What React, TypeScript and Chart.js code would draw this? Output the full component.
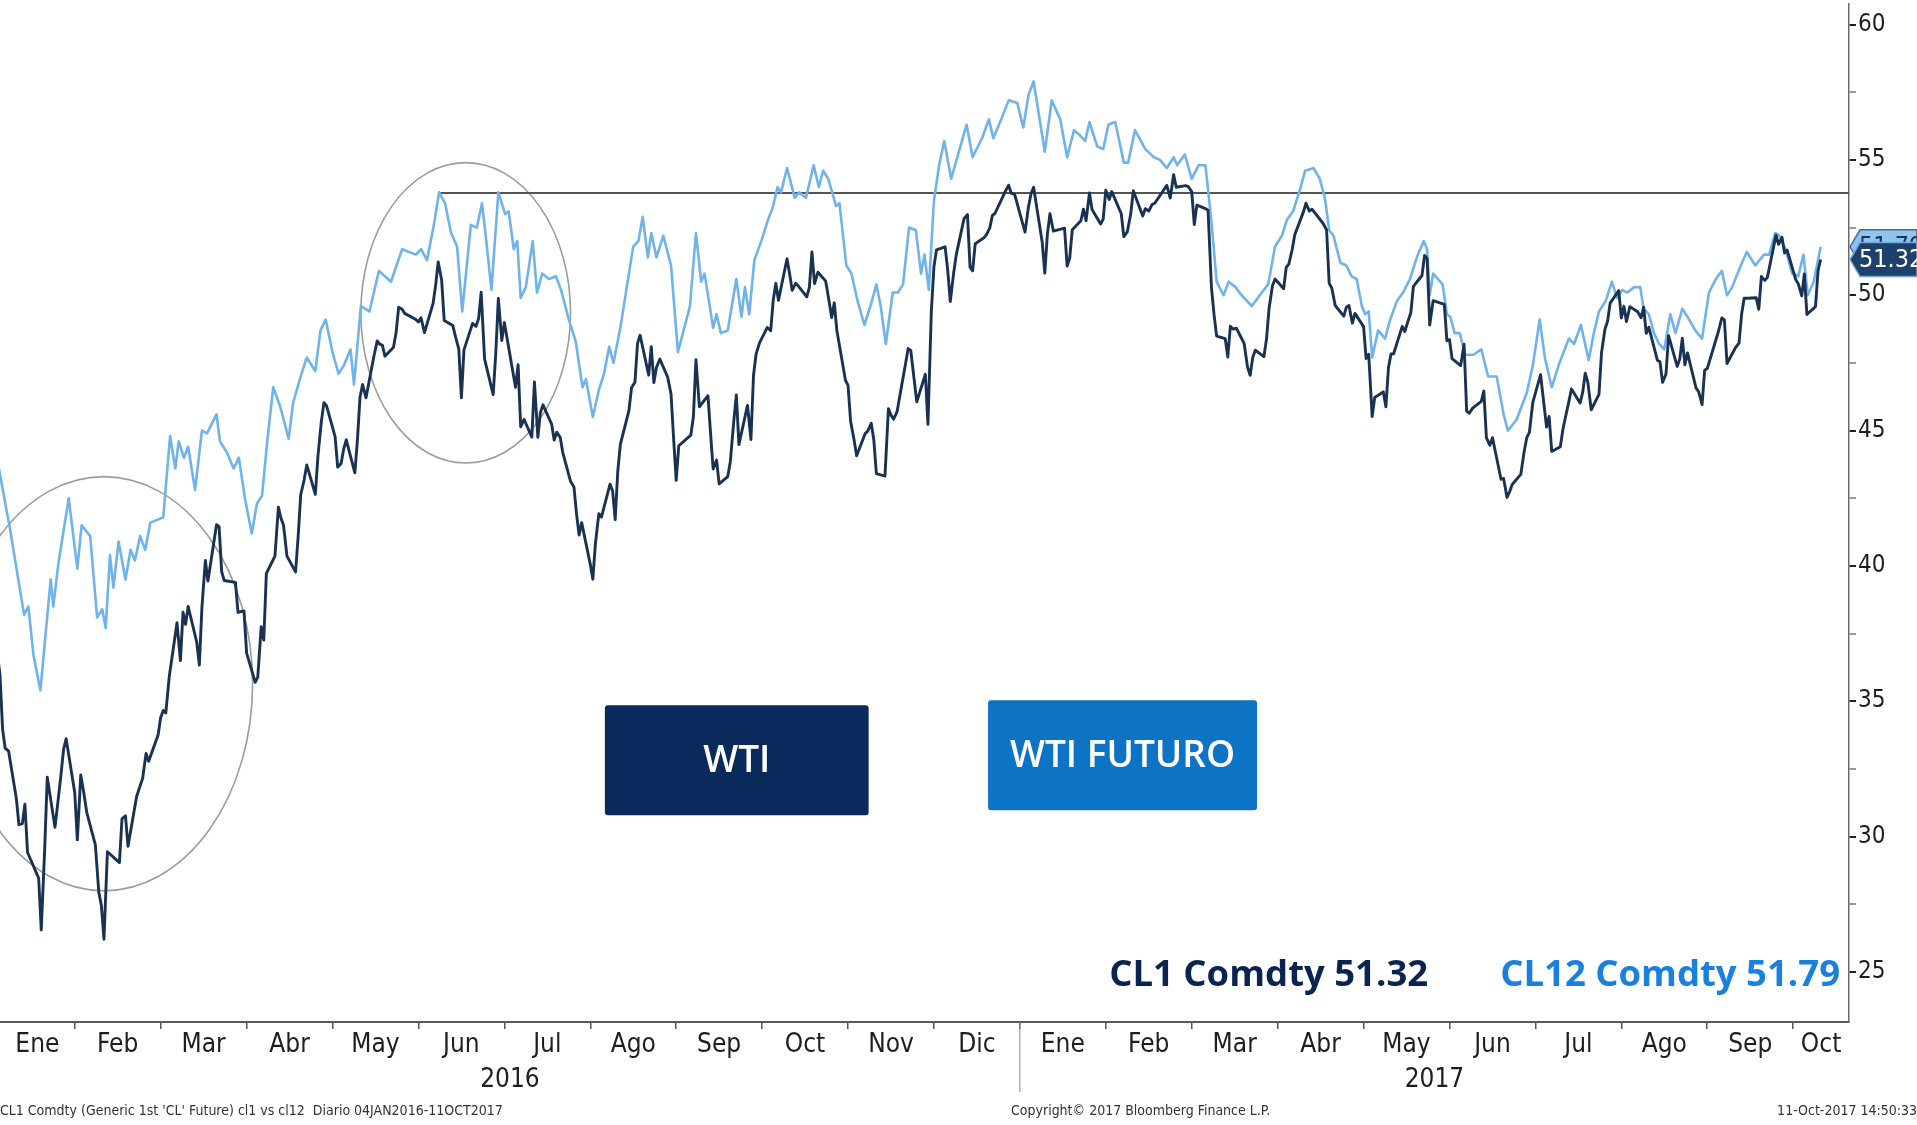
import React, { useEffect, useRef } from 'react';
import { Chart, registerables } from 'chart.js';

Chart.register(...registerables);

// x values are months since 1 Jan 2016 (fractional), y values are USD/bbl
const WTI_X = [
  0.10, 0.13, 0.16, 0.19, 0.23, 0.32, 0.35, 0.39, 0.42, 0.45, 0.58, 0.61, 0.65, 0.68, 0.77, 0.81, 0.84, 0.87, 0.90,
  1.00, 1.03, 1.07, 1.10, 1.14, 1.24, 1.28, 1.31, 1.34, 1.38, 1.52, 1.55, 1.59, 1.62, 1.72, 1.76, 1.79, 1.83, 1.86, 1.97,
  2.00, 2.03, 2.06, 2.10, 2.19, 2.23, 2.26, 2.29, 2.32, 2.42, 2.45, 2.48, 2.52, 2.55, 2.65, 2.68, 2.71, 2.74, 2.87, 2.90, 2.94, 2.97,
  3.00, 3.10, 3.13, 3.17, 3.20, 3.23, 3.33, 3.37, 3.40, 3.43, 3.47, 3.57, 3.60, 3.63, 3.67, 3.70, 3.80, 3.83, 3.87, 3.90, 3.93,
  4.03, 4.06, 4.10, 4.13, 4.16, 4.26, 4.29, 4.32, 4.35, 4.39, 4.48, 4.52, 4.55, 4.58, 4.61, 4.71, 4.74, 4.77, 4.81, 4.84, 4.97,
  5.00, 5.03, 5.07, 5.17, 5.20, 5.23, 5.27, 5.30, 5.40, 5.43, 5.47, 5.50, 5.53, 5.63, 5.67, 5.70, 5.73, 5.77, 5.87, 5.90, 5.93, 5.97,
  6.00, 6.13, 6.16, 6.19, 6.23, 6.32, 6.35, 6.39, 6.42, 6.45, 6.55, 6.58, 6.61, 6.65, 6.68, 6.77, 6.81, 6.84, 6.87, 6.90,
  7.00, 7.03, 7.06, 7.10, 7.13, 7.23, 7.26, 7.29, 7.32, 7.35, 7.45, 7.48, 7.52, 7.55, 7.58, 7.68, 7.71, 7.74, 7.77, 7.81, 7.90, 7.94, 7.97,
  8.00, 8.03, 8.17, 8.20, 8.23, 8.27, 8.37, 8.40, 8.43, 8.47, 8.50, 8.60, 8.63, 8.67, 8.70, 8.73, 8.83, 8.87, 8.90, 8.93, 8.97,
  9.06, 9.10, 9.13, 9.16, 9.19, 9.29, 9.32, 9.35, 9.39, 9.42, 9.52, 9.55, 9.58, 9.61, 9.65, 9.74, 9.77, 9.81, 9.84, 9.87, 9.97,
  10.00, 10.03, 10.07, 10.10, 10.20, 10.23, 10.27, 10.30, 10.33, 10.43, 10.47, 10.50, 10.53, 10.57, 10.67, 10.70, 10.73, 10.80, 10.90, 10.93, 10.97,
  11.00, 11.03, 11.13, 11.16, 11.19, 11.23, 11.26, 11.35, 11.39, 11.42, 11.45, 11.48, 11.58, 11.61, 11.65, 11.68, 11.71, 11.84, 11.87, 11.90, 11.94,
  12.06, 12.10, 12.13, 12.16, 12.26, 12.29, 12.32, 12.35, 12.39, 12.52, 12.55, 12.58, 12.61, 12.71, 12.74, 12.77, 12.81, 12.84, 12.94, 12.97,
  13.00, 13.04, 13.07, 13.18, 13.21, 13.25, 13.29, 13.32, 13.43, 13.46, 13.50, 13.54, 13.57, 13.71, 13.75, 13.79, 13.82, 13.93, 13.96,
  14.00, 14.03, 14.06, 14.16, 14.19, 14.23, 14.26, 14.29, 14.39, 14.42, 14.45, 14.48, 14.52, 14.61, 14.65, 14.68, 14.71, 14.74, 14.84, 14.87, 14.90, 14.94, 14.97,
  15.07, 15.10, 15.13, 15.17, 15.20, 15.30, 15.33, 15.37, 15.40, 15.53, 15.57, 15.60, 15.63, 15.67, 15.77, 15.80, 15.83, 15.87, 15.90,
  16.00, 16.03, 16.06, 16.10, 16.13, 16.23, 16.26, 16.29, 16.32, 16.35, 16.45, 16.48, 16.52, 16.55, 16.58, 16.68, 16.71, 16.74, 16.77, 16.81, 16.94, 16.97,
  17.00, 17.03, 17.13, 17.17, 17.20, 17.23, 17.27, 17.37, 17.40, 17.43, 17.47, 17.50, 17.60, 17.63, 17.67, 17.70, 17.73, 17.83, 17.87, 17.90, 17.93, 17.97,
  18.06, 18.13, 18.16, 18.19, 18.29, 18.32, 18.35, 18.39, 18.42, 18.52, 18.55, 18.58, 18.61, 18.65, 18.74, 18.77, 18.81, 18.84, 18.87, 18.97,
  19.00, 19.03, 19.06, 19.10, 19.19, 19.23, 19.26, 19.29, 19.32, 19.42, 19.45, 19.48, 19.52, 19.55, 19.65, 19.68, 19.71, 19.74, 19.77, 19.87, 19.90, 19.94, 19.97,
  20.00, 20.13, 20.17, 20.20, 20.23, 20.33, 20.37, 20.40, 20.43, 20.47, 20.57, 20.60, 20.63, 20.67, 20.70, 20.80, 20.83, 20.87, 20.90, 20.93,
  21.03, 21.06, 21.10, 21.13, 21.16, 21.26, 21.29, 21.32,
];
const WTI_Y = [
  36.76, 35.97, 33.97, 33.27, 33.16, 31.41, 30.44, 30.48, 31.20, 29.42, 28.46, 26.55, 29.53, 32.19, 30.34, 31.45, 32.30, 33.22, 33.62,
  31.62, 29.88, 32.28, 31.72, 30.89, 29.69, 27.94, 27.45, 26.21, 29.44, 29.04, 30.66, 30.77, 29.64, 31.48, 31.87, 32.15, 33.07, 32.78, 33.75,
  34.40, 34.66, 34.57, 35.92, 37.90, 36.50, 38.29, 37.84, 38.50, 37.18, 36.34, 38.46, 40.20, 39.44, 41.52, 41.45, 39.79, 39.46, 39.39, 38.28, 38.32, 38.34,
  36.79, 35.70, 35.89, 37.75, 37.26, 39.72, 40.36, 42.17, 41.76, 41.50, 40.36, 39.78, 41.08, 42.63, 43.18, 43.73, 42.64, 44.04, 45.33, 46.03, 45.92,
  44.78, 43.65, 43.78, 44.32, 44.66, 43.44, 44.66, 46.23, 46.70, 46.21, 47.72, 48.31, 48.19, 48.16, 47.75, 48.08, 48.62, 49.56, 49.48, 49.33, 49.10,
  49.01, 49.17, 48.62, 49.69, 50.36, 51.23, 50.56, 49.07, 48.88, 48.49, 48.01, 46.21, 47.98, 48.96, 48.85, 49.13, 50.11, 47.64, 46.33, 47.85, 49.88, 48.33,
  48.99, 46.60, 47.43, 45.14, 45.41, 44.76, 46.80, 44.75, 45.68, 45.95, 45.24, 44.65, 44.94, 44.75, 44.19, 43.13, 42.92, 41.92, 41.14, 41.60,
  40.06, 39.51, 40.83, 41.93, 41.80, 43.02, 42.77, 41.71, 43.49, 44.49, 45.74, 46.58, 46.79, 48.22, 48.52, 47.05, 48.10, 46.77, 47.33, 47.64, 46.98, 46.35, 44.70,
  43.16, 44.44, 44.83, 45.50, 47.62, 45.88, 46.29, 44.90, 43.58, 43.91, 43.03, 43.30, 43.85, 45.34, 46.32, 44.48, 45.93, 44.67, 47.05, 47.83, 48.24,
  48.81, 48.69, 49.83, 50.44, 49.81, 51.35, 50.79, 50.18, 50.44, 50.35, 49.94, 50.29, 51.60, 50.43, 50.85, 50.52, 49.96, 49.18, 49.72, 48.70, 46.86,
  46.67, 45.34, 44.66, 44.07, 44.89, 44.98, 45.27, 44.66, 43.41, 43.32, 45.81, 45.57, 45.42, 45.69, 47.49, 48.03, 47.96, 46.06, 47.08, 45.23, 49.44,
  51.06, 51.68, 51.79, 50.93, 49.77, 50.84, 51.50, 52.83, 52.98, 51.04, 50.90, 51.90, 52.12, 52.23, 52.49, 52.95, 53.02, 53.90, 54.06, 53.77, 53.72,
  52.33, 53.26, 53.76, 53.99, 51.96, 50.82, 52.25, 53.01, 52.37, 52.48, 51.08, 51.37, 52.42, 52.75, 53.18, 52.75, 53.78, 53.17, 52.63, 52.81,
  53.88, 53.54, 53.83, 53.01, 52.17, 52.34, 53.00, 53.86, 52.93, 53.20, 53.11, 53.36, 53.40, 54.06, 53.59, 54.45, 53.99, 54.05, 54.01,
  53.83, 52.61, 53.33, 53.20, 53.14, 50.28, 49.28, 48.49, 48.40, 47.72, 48.86, 48.75, 48.78, 48.22, 47.34, 47.04, 47.70, 47.97, 47.73, 48.37, 49.51, 50.35, 50.60,
  50.24, 51.03, 51.15, 51.70, 52.24, 53.08, 53.40, 53.11, 53.18, 52.65, 52.41, 50.44, 50.27, 49.62, 49.23, 49.56, 49.62, 48.97, 49.33,
  48.84, 47.66, 47.82, 45.52, 46.22, 46.43, 45.88, 47.33, 47.83, 47.84, 48.85, 48.66, 49.07, 49.35, 50.33, 50.73, 51.47, 51.36, 48.90, 49.80, 49.66, 48.32,
  48.36, 47.66, 47.40, 48.19, 45.72, 45.64, 45.83, 46.08, 46.46, 44.73, 44.46, 44.74, 43.20, 43.23, 42.53, 42.74, 43.01, 43.38, 44.24, 44.74, 44.93, 46.04,
  47.07, 45.13, 45.52, 44.23, 44.40, 45.04, 45.49, 46.08, 46.54, 46.02, 46.40, 47.12, 46.79, 45.77, 46.34, 47.89, 48.75, 49.04, 49.71, 50.17,
  49.16, 49.59, 49.03, 49.58, 49.39, 49.17, 49.56, 48.59, 48.82, 47.59, 47.55, 46.78, 47.09, 48.51, 47.37, 47.64, 48.41, 47.43, 47.87, 46.57, 46.44, 45.96, 47.23,
  47.29, 48.66, 49.16, 49.09, 47.48, 48.07, 48.23, 49.30, 49.89, 49.89, 49.91, 49.48, 50.69, 50.55, 50.66, 52.22, 51.88, 52.14, 51.56, 51.67,
  50.58, 50.42, 49.98, 50.79, 49.29, 49.58, 50.92, 51.32,
];

const FUT_X = [
  0.10, 0.25, 0.41, 0.46, 0.52, 0.60, 0.72, 0.75, 0.81, 0.93, 1.03, 1.08, 1.18, 1.26, 1.32, 1.36, 1.41, 1.45, 1.51, 1.59,
  1.65, 1.70, 1.76, 1.82, 1.88, 1.96, 2.03, 2.11, 2.17, 2.21, 2.27, 2.32, 2.40, 2.48, 2.54, 2.65, 2.69, 2.77, 2.85, 2.91,
  2.98, 3.06, 3.12, 3.18, 3.24, 3.31, 3.39, 3.49, 3.54, 3.62, 3.70, 3.80, 3.86, 3.92, 4.00, 4.07, 4.13, 4.21, 4.25, 4.33,
  4.43, 4.54, 4.68, 4.81, 4.97, 5.03, 5.10, 5.18, 5.24, 5.31, 5.38, 5.45, 5.51, 5.61, 5.68, 5.74, 5.79, 5.85, 5.93, 6.01,
  6.05, 6.11, 6.15, 6.19, 6.25, 6.33, 6.38, 6.44, 6.52, 6.60, 6.66, 6.75, 6.83, 6.91, 6.95, 7.03, 7.10, 7.16, 7.22, 7.27,
  7.35, 7.43, 7.50, 7.56, 7.61, 7.67, 7.71, 7.77, 7.85, 7.94, 8.02, 8.16, 8.23, 8.29, 8.33, 8.43, 8.47, 8.52, 8.60, 8.70,
  8.76, 8.80, 8.85, 8.91, 8.99, 9.07, 9.12, 9.18, 9.22, 9.29, 9.38, 9.43, 9.51, 9.60, 9.66, 9.71, 9.77, 9.86, 9.90, 9.98,
  10.04, 10.11, 10.19, 10.27, 10.33, 10.38, 10.44, 10.52, 10.58, 10.64, 10.71, 10.79, 10.85, 10.89, 10.94, 11.00, 11.06, 11.12, 11.20, 11.38,
  11.45, 11.56, 11.64, 11.69, 11.77, 11.87, 11.97, 12.04, 12.10, 12.16, 12.29, 12.37, 12.47, 12.55, 12.63, 12.70, 12.76, 12.81, 12.90, 12.97,
  13.03, 13.11, 13.21, 13.26, 13.34, 13.46, 13.56, 13.63, 13.71, 13.79, 13.83, 13.92, 14.00, 14.08, 14.16, 14.23, 14.29, 14.37, 14.43, 14.51,
  14.58, 14.70, 14.84, 14.89, 14.97, 15.05, 15.11, 15.18, 15.26, 15.32, 15.42, 15.49, 15.55, 15.60, 15.65, 15.73, 15.80, 15.86, 15.92, 15.98,
  16.02, 16.06, 16.10, 16.17, 16.25, 16.31, 16.39, 16.46, 16.54, 16.62, 16.70, 16.74, 16.77, 16.81, 16.92, 16.97, 17.01, 17.06, 17.12, 17.18,
  17.28, 17.37, 17.45, 17.55, 17.63, 17.68, 17.78, 17.90, 17.97, 18.05, 18.11, 18.19, 18.28, 18.39, 18.45, 18.53, 18.62, 18.68, 18.74, 18.82,
  18.89, 18.95, 19.01, 19.07, 19.15, 19.22, 19.26, 19.32, 19.38, 19.44, 19.50, 19.57, 19.63, 19.71, 19.79, 19.86, 19.94, 20.02, 20.10, 20.17,
  20.23, 20.29, 20.39, 20.46, 20.56, 20.66, 20.72, 20.79, 20.84, 20.91, 20.99, 21.06, 21.12, 21.17, 21.24, 21.32,
];
const FUT_Y = [
  43.9, 41.3, 38.2, 38.5, 36.7, 35.4, 39.5, 38.5, 40.1, 42.5, 39.9, 41.5, 41.1, 38.1, 38.4, 37.7, 40.4, 39.2, 40.9, 39.5,
  40.6, 40.2, 41.1, 40.6, 41.6, 41.7, 41.8, 44.8, 43.6, 44.6, 44.0, 44.4, 42.8, 45.0, 44.9, 45.6, 44.6, 44.2, 43.6, 44.0,
  42.5, 41.2, 42.3, 42.6, 44.6, 46.6, 45.9, 44.7, 46.0, 46.9, 47.7, 47.2, 48.7, 49.1, 47.9, 47.1, 47.4, 48.0, 46.7, 49.6,
  49.4, 50.9, 50.5, 51.7, 51.5, 51.7, 51.3, 52.6, 53.8, 53.4, 52.3, 51.8, 49.4, 52.6, 52.5, 53.4, 52.0, 50.2, 53.8, 53.0,
  53.1, 51.7, 52.0, 49.9, 50.3, 52.0, 50.1, 50.8, 50.6, 50.7, 50.2, 49.1, 48.3, 46.6, 46.9, 45.5, 46.5, 47.1, 48.1, 47.5,
  48.8, 50.4, 51.8, 52.0, 52.9, 51.4, 52.3, 51.4, 52.2, 51.1, 47.9, 49.6, 52.3, 50.5, 50.8, 48.8, 49.3, 48.6, 48.7, 50.6,
  49.2, 50.3, 49.3, 51.3, 52.0, 52.8, 53.2, 54.0, 53.8, 54.7, 53.6, 53.8, 53.6, 54.8, 54.0, 54.6, 54.3, 53.3, 53.4, 51.1,
  50.8, 49.8, 48.9, 49.7, 50.4, 49.6, 48.2, 50.1, 50.1, 50.4, 52.5, 52.4, 50.8, 51.5, 50.2, 53.5, 54.8, 55.7, 54.3, 56.3,
  55.1, 55.8, 56.5, 55.8, 56.4, 57.2, 57.1, 56.2, 57.4, 57.9, 55.3, 57.2, 56.5, 55.1, 56.1, 55.9, 55.7, 56.4, 55.5, 55.4,
  56.3, 56.4, 54.9, 54.9, 56.1, 55.4, 55.1, 55.0, 54.7, 55.1, 54.8, 55.2, 54.3, 54.8, 54.8, 52.7, 50.5, 50.0, 50.5, 50.3,
  50.0, 49.6, 50.2, 50.4, 51.8, 52.2, 52.8, 53.1, 53.9, 54.6, 54.7, 54.3, 53.6, 52.4, 52.2, 51.2, 51.1, 50.7, 50.6, 49.6,
  49.3, 49.4, 47.7, 48.7, 48.4, 49.1, 49.8, 50.1, 50.6, 51.4, 52.0, 51.7, 50.0, 50.8, 50.4, 49.3, 49.2, 48.6, 48.6, 47.8,
  47.8, 48.0, 47.0, 47.0, 45.6, 45.0, 45.4, 46.4, 47.4, 49.1, 47.7, 46.6, 47.5, 48.4, 48.2, 48.9, 47.6, 48.6, 49.4, 49.8,
  50.5, 49.9, 50.2, 50.1, 50.3, 50.3, 49.5, 49.3, 48.6, 48.2, 48.0, 49.3, 48.6, 49.5, 49.1, 48.7, 48.4, 50.1, 50.6, 50.9,
  50.0, 50.3, 51.1, 51.6, 51.1, 51.5, 51.5, 52.3, 52.2, 51.7, 50.8, 50.7, 51.5, 50.0, 50.5, 51.79,
];

const MONTH_LABELS = ['Ene', 'Feb', 'Mar', 'Abr', 'May', 'Jun', 'Jul', 'Ago', 'Sep', 'Oct', 'Nov', 'Dic',
  'Ene', 'Feb', 'Mar', 'Abr', 'May', 'Jun', 'Jul', 'Ago', 'Sep', 'Oct'];
const YEAR_LABELS = ['2016', '2017'];
const YEAR_STARTS = [0, 12];
const Y_TICKS = [25, 27.5, 30, 32.5, 35, 37.5, 40, 42.5, 45, 47.5, 50, 52.5, 55, 57.5, 60];
const REF_LEVEL = 53.78;
const REF_START = 5.24;

// axis window
const X_MIN = 0.13;
const X_MAX = 21.65;
const Y_MIN = 23.15;
const Y_MAX = 60.76;

// annotation geometry (data units)
const CIRCLES = [
  { cx: 1.34, cy: 35.65, rx: 1.73, ry: 7.65 },
  { cx: 5.55, cy: 49.35, rx: 1.22, ry: 5.55 },
];
const BOXES = [
  { label: 'WTI', x0: 7.17, x1: 10.24, yTop: 34.85, yBot: 30.79, color: '#0b2a5c' },
  { label: 'WTI FUTURO', x0: 11.63, x1: 14.76, yTop: 35.04, yBot: 30.97, color: '#0c73c5' },
];

const NARROW = "'DejaVu Sans Condensed', 'Liberation Sans Narrow', 'Arial Narrow', sans-serif";
const BOLD = "'Open Sans', 'Noto Sans', sans-serif";
const DARK = '#1a3252';
const LIGHT = '#70b3ec';

const MONTH_BOUNDS = MONTH_LABELS.slice(1).map((_, i) => i + 1);
const MONTH_CENTERS = MONTH_LABELS.map((_, i) => (Math.max(i, X_MIN) + Math.min(i + 1, X_MAX)) / 2);
const YEAR_CENTERS = YEAR_STARTS.map((s, i) => {
  const e = i + 1 < YEAR_STARTS.length ? YEAR_STARTS[i + 1] : X_MAX;
  return (Math.max(s, X_MIN) + Math.min(e, X_MAX)) / 2;
});

const overlayPlugin = {
  id: 'overlay',
  beforeDatasetsDraw(chart: any) {
    const { ctx, scales } = chart;
    const xs = scales.x;
    const ys = scales.y;
    ctx.save();
    ctx.strokeStyle = '#9c9c9c';
    ctx.lineWidth = 1.6;
    for (const c of CIRCLES) {
      const cx = xs.getPixelForValue(c.cx);
      const cy = ys.getPixelForValue(c.cy);
      const rx = Math.abs(xs.getPixelForValue(c.cx + c.rx) - cx);
      const ry = Math.abs(ys.getPixelForValue(c.cy + c.ry) - cy);
      ctx.beginPath();
      ctx.ellipse(cx, cy, rx, ry, 0, 0, Math.PI * 2);
      ctx.stroke();
    }
    ctx.restore();
  },
  afterDatasetsDraw(chart: any) {
    const { ctx, scales } = chart;
    const xs = scales.x;
    const ys = scales.y;
    ctx.save();
    for (const b of BOXES) {
      const l = xs.getPixelForValue(b.x0);
      const r = xs.getPixelForValue(b.x1);
      const t = ys.getPixelForValue(b.yTop);
      const bt = ys.getPixelForValue(b.yBot);
      ctx.fillStyle = b.color;
      ctx.beginPath();
      ctx.roundRect(l, t, r - l, bt - t, 3);
      ctx.fill();
      ctx.fillStyle = '#ffffff';
      ctx.font = `600 37px ${BOLD}`;
      ctx.textAlign = 'center';
      ctx.textBaseline = 'middle';
      ctx.fillText(b.label, (l + r) / 2, (t + bt) / 2 + 1);
    }
    ctx.restore();
  },
  afterDraw(chart: any) {
    const { ctx, scales, chartArea } = chart;
    const xs = scales.x;
    const ys = scales.y;
    const W = chart.width;
    const lastWti = WTI_Y[WTI_Y.length - 1];
    const lastFut = FUT_Y[FUT_Y.length - 1];
    ctx.save();

    // legend-style value texts
    const ly = ys.getPixelForValue(25) + 4;
    ctx.font = `700 36.5px ${BOLD}`;
    ctx.textBaseline = 'middle';
    ctx.textAlign = 'right';
    const t2 = `CL12 Comdty ${lastFut.toFixed(2)}`;
    const t1 = `CL1 Comdty ${lastWti.toFixed(2)}`;
    const r2 = chartArea.right - 9;
    ctx.fillStyle = '#1a80e0';
    ctx.fillText(t2, r2, ly);
    const w2 = ctx.measureText(t2).width;
    ctx.fillStyle = '#0b2350';
    ctx.fillText(t1, r2 - w2 - 72, ly);

    // last-value tags on the right axis
    const drawTag = (val: number, fill: string, stroke: string, color: string) => {
      const py = ys.getPixelForValue(val);
      const left = chartArea.right + 1;
      const h = 17;
      ctx.beginPath();
      ctx.moveTo(left, py);
      ctx.lineTo(left + 10, py - h);
      ctx.lineTo(W, py - h);
      ctx.lineTo(W, py + h);
      ctx.lineTo(left + 10, py + h);
      ctx.closePath();
      ctx.fillStyle = fill;
      ctx.fill();
      ctx.strokeStyle = stroke;
      ctx.lineWidth = 1.5;
      ctx.stroke();
      ctx.fillStyle = color;
      ctx.font = `25px ${NARROW}`;
      ctx.textAlign = 'left';
      ctx.textBaseline = 'middle';
      ctx.fillText(val.toFixed(2), left + 9, py + 1);
    };
    drawTag(lastFut, '#8fc4ee', '#3a6fa6', '#1b3454');
    drawTag(lastWti, '#1d416b', '#6fa8de', '#ffffff');

    // year separator
    const sx = xs.getPixelForValue(YEAR_STARTS[1]);
    ctx.strokeStyle = '#8a8a8a';
    ctx.lineWidth = 1;
    ctx.beginPath();
    ctx.moveTo(sx, chartArea.bottom);
    ctx.lineTo(sx, chartArea.bottom + 70);
    ctx.stroke();

    // footer
    ctx.fillStyle = '#333';
    ctx.font = `14px ${NARROW}`;
    ctx.textBaseline = 'middle';
    const fy = chart.height - 14;
    ctx.textAlign = 'left';
    ctx.fillText("CL1 Comdty (Generic 1st 'CL' Future) cl1 vs cl12  Diario 04JAN2016-11OCT2017", 0, fy);
    ctx.fillText('Copyright\u00A9 2017 Bloomberg Finance L.P.', 1011, fy);
    ctx.textAlign = 'right';
    ctx.fillText('11-Oct-2017 14:50:33', W, fy);
    ctx.restore();
  },
};

export default function App() {
  const ref = useRef<HTMLCanvasElement | null>(null);

  useEffect(() => {
    if (!ref.current) return;
    const chart = new Chart(ref.current, {
      type: 'line',
      data: {
        datasets: [
          {
            label: 'CL1 Comdty',
            data: WTI_X.map((x, i) => ({ x, y: WTI_Y[i] })),
            borderColor: DARK,
            borderWidth: 2.9,
            pointRadius: 0,
            tension: 0,
            borderJoinStyle: 'round',
          },
          {
            label: 'CL12 Comdty',
            data: FUT_X.map((x, i) => ({ x, y: FUT_Y[i] })),
            borderColor: LIGHT,
            borderWidth: 2.6,
            pointRadius: 0,
            tension: 0,
            borderJoinStyle: 'round',
          },
          {
            label: 'ref',
            data: [{ x: REF_START, y: REF_LEVEL }, { x: X_MAX, y: REF_LEVEL }],
            borderColor: '#555555',
            borderWidth: 2,
            pointRadius: 0,
          },
        ],
      },
      options: {
        animation: false,
        responsive: false,
        devicePixelRatio: 1,
        layout: { padding: { top: 4, left: 0, right: 0, bottom: 0 } },
        plugins: { legend: { display: false }, tooltip: { enabled: false } },
        scales: {
          x: {
            type: 'linear',
            position: 'bottom',
            weight: 0,
            min: X_MIN,
            max: X_MAX,
            afterBuildTicks: (s: any) => { s.ticks = MONTH_BOUNDS.map((v) => ({ value: v })); },
            afterFit: (s: any) => { s.height = 8; s.paddingLeft = 0; s.paddingRight = 0; },
            grid: { drawOnChartArea: false, drawTicks: true, tickLength: 7, color: '#555', lineWidth: 1.5 },
            border: { display: true, color: '#5a5a5a', width: 2 },
            ticks: { display: false },
          },
          x2: {
            type: 'linear',
            position: 'bottom',
            weight: 1,
            min: X_MIN,
            max: X_MAX,
            afterBuildTicks: (s: any) => { s.ticks = MONTH_CENTERS.map((v) => ({ value: v })); },
            afterFit: (s: any) => { s.height = 28; s.paddingLeft = 0; s.paddingRight = 0; },
            grid: { display: false, drawTicks: false },
            border: { display: false },
            ticks: {
              autoSkip: false,
              maxRotation: 0,
              padding: 0,
              color: '#1e1e1e',
              font: { family: NARROW, size: 26 },
              callback: (_v: any, i: number) => MONTH_LABELS[i],
            },
          },
          x3: {
            type: 'linear',
            position: 'bottom',
            weight: 2,
            min: X_MIN,
            max: X_MAX,
            afterBuildTicks: (s: any) => { s.ticks = YEAR_CENTERS.map((v) => ({ value: v })); },
            afterFit: (s: any) => { s.height = 67; s.paddingLeft = 0; s.paddingRight = 0; },
            grid: { display: false, drawTicks: false },
            border: { display: false },
            ticks: {
              autoSkip: false,
              maxRotation: 0,
              padding: 7,
              color: '#1e1e1e',
              font: { family: NARROW, size: 26 },
              callback: (_v: any, i: number) => YEAR_LABELS[i],
            },
          },
          y: {
            type: 'linear',
            position: 'right',
            min: Y_MIN,
            max: Y_MAX,
            afterBuildTicks: (s: any) => { s.ticks = Y_TICKS.map((v) => ({ value: v })); },
            afterFit: (s: any) => { s.width = 68; s.paddingTop = 0; s.paddingBottom = 0; },
            grid: {
              drawOnChartArea: false,
              drawTicks: true,
              tickLength: 7,
              color: (c: any) => (c.tick && c.tick.value % 5 === 0 ? '#222' : '#9a9a9a'),
              lineWidth: 2,
            },
            border: { display: true, color: '#6a6a6a', width: 1.5 },
            ticks: {
              padding: 2,
              color: '#1e1e1e',
              font: { family: NARROW, size: 24 },
              callback: (v: any) => (Number(v) % 5 === 0 ? String(v) : ''),
            },
          },
        },
      },
      plugins: [overlayPlugin],
    } as any);
    return () => chart.destroy();
  }, []);

  return (
    <div style={{ position: 'absolute', left: 0, top: 0, width: 1917, height: 1125, background: '#ffffff' }}>
      <canvas ref={ref} width={1917} height={1125} style={{ display: 'block', width: 1917, height: 1125 }} />
    </div>
  );
}
